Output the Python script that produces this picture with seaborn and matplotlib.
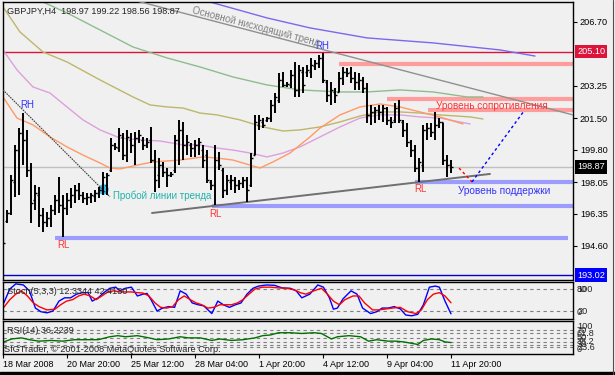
import matplotlib
matplotlib.use('Agg')
import matplotlib.pyplot as plt
import matplotlib.transforms as mtransforms
from matplotlib.patches import Rectangle
from matplotlib.lines import Line2D
import seaborn as sns

sns.set_style('white')
plt.rcParams['font.family'] = ['Liberation Sans', 'DejaVu Sans']

# GBPJPY H4 bars
opens = [194.11, 195.95, 196.38, 198.06, 199.78, 200.70, 200.33, 198.70, 197.08, 197.35,
         196.27, 195.90, 196.11, 196.54, 197.08, 196.81, 196.65, 197.08, 197.35, 197.62,
         197.35, 197.19, 197.25, 197.30, 197.46, 197.62, 197.89, 198.70, 200.06, 199.89,
         200.49, 199.51, 200.33, 200.06, 200.43, 200.33, 200.06, 200.33, 199.24, 198.43,
         198.97, 198.60, 198.43, 198.70, 200.33, 200.87, 200.06, 200.06, 199.89, 200.06,
         199.78, 199.51, 198.06, 197.89, 199.24, 198.70, 197.62, 198.06, 198.16, 197.89,
         198.00, 198.16, 197.89, 199.51, 201.14, 201.30, 201.41, 201.51, 202.22, 202.49,
         203.57, 203.30, 203.30, 203.84, 203.03, 204.00, 204.00, 204.00, 204.32, 204.49,
         204.76, 203.46, 202.76, 202.92, 202.92, 203.67, 204.00, 204.00, 203.67, 203.46,
         203.57, 203.13, 201.68, 201.84, 201.95, 201.84, 202.05, 201.41, 201.41, 202.05,
         201.30, 200.87, 200.22, 199.78, 198.81, 198.97, 200.87, 200.97, 200.76, 201.14,
         201.30, 199.24, 198.97]
highs = [194.92, 196.54, 198.43, 200.06, 200.97, 201.78, 200.87, 199.08, 197.89, 197.79,
         196.65, 196.44, 196.81, 197.35, 198.33, 197.35, 197.46, 197.73, 197.89, 198.00,
         197.52, 197.46, 197.46, 197.62, 197.79, 198.60, 198.54, 200.43, 200.16, 200.97,
         200.70, 200.87, 200.70, 200.76, 200.87, 200.49, 200.43, 201.03, 199.78, 199.35,
         199.14, 198.81, 198.60, 200.60, 201.41, 201.30, 200.60, 200.16, 200.33, 200.43,
         200.06, 199.78, 198.16, 200.06, 199.68, 198.81, 198.43, 198.43, 198.33, 198.16,
         198.33, 198.33, 199.62, 201.68, 201.68, 201.51, 201.57, 202.49, 202.86, 203.94,
         204.00, 203.46, 204.11, 204.54, 204.38, 204.27, 204.38, 204.76, 204.65, 204.92,
         205.03, 203.57, 203.46, 203.13, 204.00, 204.27, 204.21, 204.27, 204.00, 203.94,
         203.73, 203.40, 202.22, 202.11, 202.22, 202.22, 202.11, 201.57, 202.32, 202.49,
         201.41, 201.24, 200.33, 200.06, 199.35, 201.14, 201.24, 201.24, 201.84, 201.51,
         201.24, 199.51, 199.22]
lows = [193.95, 195.84, 196.27, 197.25, 197.35, 198.97, 198.33, 195.84, 196.54, 195.62,
        195.35, 195.62, 195.62, 196.27, 196.38, 195.08, 196.27, 196.65, 196.92, 197.08,
        196.92, 196.81, 196.92, 196.98, 197.19, 197.35, 197.35, 198.60, 199.78, 199.68,
        199.24, 199.14, 199.62, 198.97, 200.16, 199.78, 199.89, 199.08, 197.52, 197.73,
        198.33, 197.79, 198.33, 198.54, 198.97, 199.24, 199.51, 199.41, 199.41, 199.51,
        198.81, 198.00, 197.62, 196.81, 198.70, 197.19, 197.35, 197.62, 197.46, 197.62,
        197.73, 196.98, 197.79, 199.51, 200.87, 200.97, 201.30, 201.30, 201.78, 202.32,
        203.19, 203.19, 203.13, 202.65, 202.65, 202.86, 203.73, 203.67, 204.11, 204.21,
        203.40, 202.38, 202.22, 202.32, 202.92, 203.30, 203.73, 203.40, 203.03, 203.03,
        202.86, 201.24, 201.14, 201.24, 201.41, 201.30, 201.14, 200.97, 201.24, 201.24,
        200.49, 199.95, 199.41, 198.60, 198.06, 198.60, 200.33, 200.49, 200.33, 200.97,
        198.97, 198.33, 198.56]
closes = [194.76, 196.38, 198.16, 199.78, 200.70, 200.33, 198.70, 196.92, 197.46, 196.27,
          195.90, 196.11, 196.54, 197.08, 196.81, 196.65, 197.08, 197.35, 197.62, 197.35,
          197.19, 197.25, 197.35, 197.46, 197.62, 198.33, 198.43, 200.06, 199.95, 200.60,
          199.51, 200.49, 200.06, 200.43, 200.60, 200.06, 200.22, 199.24, 198.16, 198.97,
          198.60, 198.43, 198.49, 200.33, 200.87, 200.06, 200.22, 199.89, 200.06, 200.22,
          199.24, 198.16, 197.89, 199.24, 198.97, 197.62, 198.16, 198.16, 197.89, 198.00,
          198.16, 197.62, 199.35, 201.30, 201.41, 201.14, 201.51, 202.22, 202.65, 203.57,
          203.30, 203.35, 203.84, 203.03, 204.11, 203.30, 204.11, 204.38, 204.49, 204.76,
          203.57, 202.76, 203.03, 202.76, 203.67, 204.00, 203.94, 203.67, 203.46, 203.57,
          203.13, 201.68, 201.84, 201.95, 201.84, 202.05, 201.41, 201.30, 202.05, 201.41,
          200.87, 200.22, 199.78, 198.81, 199.14, 200.87, 200.97, 200.76, 201.14, 201.30,
          199.24, 198.97, 198.87]
bar_idx = list(range(len(opens)))

# time axis
tick_idx = [0, 16, 32, 48, 64, 80, 96, 112]
tick_labels = ['18 Mar 2008', '20 Mar 20:00', '25 Mar 12:00', '28 Mar 04:00',
               '1 Apr 20:00', '4 Apr 12:00', '9 Apr 04:00', '11 Apr 20:00']
price_ticks = [206.70, 203.25, 201.50, 199.80, 198.05, 196.35, 194.60]

# moving averages (bar index, price)
ma_fast_x = [0, 3.5, 7.5, 11.75, 16, 20, 24.25, 26.75, 29.25, 32.5, 37.5, 44.25, 50, 53.5,
             57.5, 61.75, 64.25, 67.5, 71.75, 76.75, 79.25, 84.25, 89.25, 94.25, 99.25,
             104.25, 109.25, 115]
ma_fast = [202.65, 201.51, 201.14, 200.49, 199.95, 199.51, 199.08, 198.81, 198.76, 198.92,
           199.14, 199.24, 199.41, 199.35, 199.24, 198.97, 198.81, 199.14, 199.62, 200.49,
           200.97, 201.68, 202.11, 202.27, 202.11, 201.84, 201.57, 201.19]
ma_plum_x = [0, 3.5, 7.5, 11.75, 16, 20, 24.25, 29.25, 34.25, 39.25, 45, 49.25, 53.5, 57.5,
             61.75, 66, 70, 74.25, 79.25, 84.25, 89.25, 94.25, 99.25, 104.25, 109.25, 116.75]
ma_plum = [205.19, 204.11, 203.19, 202.86, 202.11, 201.41, 200.87, 200.43, 200.33, 200.27,
           200.06, 200.06, 199.89, 199.78, 199.62, 199.41, 199.62, 199.95, 200.49, 201.03,
           201.51, 201.68, 201.68, 201.57, 201.51, 201.19]
ma_olive_x = [0, 4.25, 10, 16, 24.25, 32.5, 36.75, 41, 45, 49.25, 53.5, 59.25, 65, 70,
              74.25, 79.25, 84.25, 89.25, 94.25, 99.25, 104.25, 109.25, 116.75, 120]
ma_olive = [207.51, 206.16, 205.08, 204.54, 203.57, 202.65, 202.22, 202.11, 202.05, 201.78,
            201.68, 201.41, 201.03, 200.81, 200.87, 201.03, 201.30, 201.62, 201.84, 201.84,
            201.78, 201.68, 201.57, 201.46]
ma_green_x = [10, 16, 24.25, 32.5, 41, 49.25, 57.5, 66, 74.25, 84.25, 91, 99.25, 107.5, 116, 120]
ma_green = [207.78, 207.19, 206.27, 205.35, 204.76, 204.27, 203.73, 203.30, 203.03, 202.92,
            202.92, 203.03, 202.92, 202.65, 202.65]
ma_blue_x = [51.75, 66, 76.75, 91, 107.5, 124.25, 133]
ma_blue = [207.78, 206.92, 206.38, 205.84, 205.57, 205.19, 204.86]

# drawn objects
main_trend_x, main_trend_y = [32.5, 142.5], [207.89, 201.68]
break_trend_x, break_trend_y = [0, 26.75], [203.03, 197.25]
support_trend_x, support_trend_y = [37.25, 121.75], [196.38, 198.49]
break_point = (25, 197.68)
fc_down_x, fc_down_y = [114, 117.25], [198.81, 198.06]
fc_up_x, fc_up_y = [117.25, 130.25], [198.06, 201.89]
res_levels = [204.43, 202.54, 201.95]
res_start = [84, 96, 106.25]
sup_levels = [198.06, 196.76, 195.03]
sup_start = [103, 52.25, 13]
sup_end = [142.5, 142.5, 141.25]
level_high, level_bid, level_alert = 205.10, 198.87, 193.02
rh_pts = [(6, 202.22), (79.75, 205.40)]
rl_pts = [(15, 194.65), (53, 196.33), (104.25, 197.68)]

# Stochastic (5,3,3)
st_main_x = [0.2, 1.7, 3.2, 5.1, 6.6, 8.1, 9.5, 11.0, 12.5, 14.0, 15.4, 16.9, 18.4, 19.8, 21.3,
             22.3, 23.8, 25.2, 26.7, 28.2, 29.2, 30.6, 32.1, 33.6, 35.0, 36.0, 37.0, 38.5, 39.9,
             41.4, 42.9, 44.3, 45.8, 47.3, 48.8, 50.2, 52.2, 53.7, 55.1, 56.6, 58.1, 59.5, 61.0,
             62.5, 63.9, 65.9, 67.9, 69.8, 71.8, 73.3, 74.7, 76.7, 78.7, 80.1, 81.6, 82.6, 83.6,
             85.0, 87.0, 88.5, 89.9, 91.9, 93.4, 94.8, 96.3, 97.8, 99.3, 100.7, 102.2, 103.7,
             105.1, 106.6, 108.1, 109.1, 110.5, 112.0]
st_main = [42, 80, 94, 91, 75, 28, 18, 15, 20, 47, 56, 56, 66, 70, 70, 47, 56, 70, 82, 85,
           75, 82, 85, 61, 66, 68, 51, 20, 28, 32, 30, 75, 66, 42, 37, 34, 13, 47, 37, 30,
           37, 42, 66, 82, 88, 91, 90, 83, 82, 75, 56, 66, 91, 85, 56, 25, 28, 53, 75, 66,
           28, 13, 18, 28, 28, 32, 26, 9, 7, 11, 37, 85, 88, 85, 47, 12.3344]
st_sig_x = [0.2, 1.7, 3.2, 4.6, 6.1, 7.6, 9.0, 11.0, 13.0, 14.4, 15.9, 17.4, 18.9, 20.3, 21.8,
            23.3, 24.7, 26.2, 27.7, 29.2, 30.6, 32.1, 33.6, 35.0, 36.5, 38.0, 39.4, 40.9, 42.4,
            43.9, 45.3, 46.8, 48.3, 49.7, 51.2, 52.7, 54.2, 55.6, 57.1, 58.6, 60.0, 61.5, 63.0,
            64.9, 66.9, 68.9, 70.8, 72.8, 74.3, 75.7, 77.7, 79.6, 81.1, 82.6, 84.1, 85.5, 87.5,
            89.0, 90.4, 92.4, 93.9, 95.3, 97.3, 99.3, 101.2, 103.2, 104.6, 106.1, 107.6, 109.1,
            110.5, 112.0]
st_sig = [30, 51, 66, 75, 61, 42, 32, 23, 25, 37, 47, 51, 61, 66, 61, 51, 61, 72, 75, 72,
          72, 72, 70, 69, 61, 42, 30, 28, 32, 51, 61, 51, 42, 37, 28, 30, 37, 37, 37, 42,
          51, 66, 80, 85, 85, 83, 82, 78, 70, 66, 75, 82, 66, 47, 37, 51, 61, 61, 42, 23,
          23, 25, 28, 30, 18, 13, 23, 51, 66, 70, 61, 42.4130]

# RSI(14)
rsi_x = [0.2, 2.2, 4.6, 6.6, 9.0, 12.0, 14.9, 17.9, 20.8, 23.8, 26.7, 28.7, 30.6, 33.6, 36.5,
         38.5, 41.4, 44.3, 46.3, 49.3, 52.2, 54.2, 57.1, 60.0, 63.0, 64.9, 66.9, 68.9, 71.8,
         74.7, 77.7, 79.6, 82.1, 83.6, 86.5, 89.4, 91.4, 93.4, 96.3, 98.3, 100.2, 102.2, 103.7,
         105.1, 107.1, 109.1, 110.5, 112.0]
rsi = [38, 46, 49, 44, 40, 42, 40, 44, 44, 44, 52, 55, 52, 55, 49, 44, 46, 52, 49, 49,
       42, 46, 42, 44, 49, 55, 57, 63, 63, 61, 63, 61, 46, 52, 55, 52, 40, 44, 40, 40,
       38, 34, 31, 42, 46, 44, 38, 36.2239]
rsi_levels = [70, 61.8, 50, 38.2, 30, 23.6]

BG = '#F0F0F0'
W, H = 615, 375
FS = 6.6
X_END = 142.5


def rect(x0, y0, x1, y1):
    return [x0 / W, 1 - y1 / H, (x1 - x0) / W, (y1 - y0) / H]


fig = plt.figure(figsize=(W / 100, H / 100), dpi=100, facecolor=BG)
ax = fig.add_axes(rect(3, 2, 573, 280))
ax_st = fig.add_axes(rect(3, 282, 573, 319), sharex=ax)
ax_rsi = fig.add_axes(rect(3, 321, 573, 354), sharex=ax)

for a in (ax, ax_st, ax_rsi):
    a.set_facecolor(BG)
    for s in a.spines.values():
        s.set_color('black')
        s.set_linewidth(1)
    a.tick_params(axis='x', bottom=False, labelbottom=False)
    a.tick_params(axis='y', left=False, labelleft=False)

# ---- main price panel
ax.set_xlim(0, X_END)
ax.set_ylim(192.76, 207.78)

ax.axhline(level_high, color='#DC143C', lw=1, zorder=1)
ax.axhline(level_bid, color='#C0C0C0', lw=1, zorder=1)
ax.axhline(level_alert, color='#0000CD', lw=1, zorder=1)
for p, s in zip(res_levels, res_start):
    ax.hlines(p, s, X_END, color='#FF9C9C', lw=3, zorder=1)
for p, s, e in zip(sup_levels, sup_start, sup_end):
    ax.hlines(p, s, e, color='#9C9CFF', lw=3, zorder=1)

for xs, ys, c in [(ma_blue_x, ma_blue, '#7B68EE'), (ma_green_x, ma_green, '#8FBC8F'),
                  (ma_olive_x, ma_olive, '#BDB76B'), (ma_plum_x, ma_plum, '#DDA0DD'),
                  (ma_fast_x, ma_fast, '#FF9966')]:
    sns.lineplot(x=xs, y=ys, color=c, linewidth=1, ax=ax, estimator=None, sort=False, zorder=2)

ax.plot(main_trend_x, main_trend_y, color='#909090', lw=1, zorder=3)
ax.plot(support_trend_x, support_trend_y, color='#707070', lw=1.4, zorder=3)
ax.plot(*break_point, 'o', ms=7.5, color='#3CBDF0', mec='none', zorder=3)
ax.plot(break_trend_x, break_trend_y, color='#404040', lw=0.8, ls=(0, (1.5, 0.8)), zorder=3)
ax.plot(fc_down_x, fc_down_y, color='#FF0000', lw=1, ls=(0, (2, 2)), zorder=3)
ax.plot(fc_up_x, fc_up_y, color='#0000FF', lw=1, ls=(0, (2, 2)), zorder=3)

# bars
ax.vlines(bar_idx, lows, highs, colors='black', lw=1.4, zorder=4)
ax.hlines(opens, [i - 0.45 for i in bar_idx], bar_idx, colors='black', lw=1, zorder=4)
ax.hlines(closes, bar_idx, [i + 0.45 for i in bar_idx], colors='black', lw=1, zorder=4)

# labels on the chart
for x, y in rh_pts:
    ax.text(x, y, 'RH', color='#3333FF', fontsize=7, ha='center', va='center', zorder=5)
for x, y in rl_pts:
    ax.text(x, y, 'RL', color='#FF3333', fontsize=7, ha='center', va='center', zorder=5)
ax.text(47.25, 207.19, 'Основной нисходящий тренд', rotation=-14.6, rotation_mode='anchor',
        ha='left', va='baseline', color='#808080', fontsize=7, zorder=5)
ax.text(27.5, 197.30, 'Пробой линии тренда', color='#20B2AA', fontsize=7,
        ha='left', va='center', zorder=5)
ax.text(108.25, 202.16, 'Уровень сопротивления', color='#FF3333', fontsize=7.2,
        ha='left', va='center', zorder=5)
ax.text(113.75, 197.57, 'Уровень поддержки', color='#3333FF', fontsize=7.3,
        ha='left', va='center', zorder=5)

# price scale
ax.yaxis.tick_right()
ax.set_yticks(price_ticks)
ax.set_yticklabels([f'{v:.2f}' for v in price_ticks])
ax.tick_params(axis='y', right=True, labelright=True, length=3, width=0.8, pad=2,
               labelsize=FS, colors='black')
trans = mtransforms.blended_transform_factory(ax.transAxes, ax.transData)
for p, c in [(level_high, '#DC143C'), (level_bid, '#000000'), (level_alert, '#0000FF')]:
    ax.text(1.007, p, f'{p:.2f}', transform=trans, fontsize=FS, color='white', ha='left',
            va='center', clip_on=False,
            bbox=dict(boxstyle='square,pad=0.25', fc=c, ec='none'))
ax.set_xlabel('')
ax.set_ylabel('')

# ---- stochastic panel
ax_st.set_ylim(-1.8, 99.1)
for lv in (80, 20):
    ax_st.axhline(lv, color='#808080', lw=0.8, ls=(0, (3, 3)))
sns.lineplot(x=st_main_x, y=st_main, color='#0000FF', linewidth=1, ax=ax_st, estimator=None)
sns.lineplot(x=st_sig_x, y=st_sig, color='#FF0000', linewidth=1, ax=ax_st, estimator=None)
ax_st.text(0.007, 0.73, f'Stoch(5,3,3) {st_main[-1]:.4f} {st_sig[-1]:.4f}',
           transform=ax_st.transAxes, fontsize=FS, ha='left', va='center')
tr_st = mtransforms.blended_transform_factory(ax_st.transAxes, ax_st.transData)
for lbl, v in [('100', 80), ('80', 80), ('20', 20), ('0', 15)]:
    ax_st.text(1.007, v, lbl, transform=tr_st, fontsize=FS, ha='left', va='center', clip_on=False)
ax_st.set_xlabel('')
ax_st.set_ylabel('')

# ---- RSI panel
ax_rsi.set_ylim(5, 95)
for lv in rsi_levels:
    ax_rsi.axhline(lv, color='#808080', lw=0.8, ls=(0, (3, 3)))
sns.lineplot(x=rsi_x, y=rsi, color='#007000', linewidth=1, ax=ax_rsi, estimator=None)
ax_rsi.text(0.007, 0.7, f'RSI(14) {rsi[-1]:.4f}', transform=ax_rsi.transAxes, fontsize=FS,
            ha='left', va='center')
ax_rsi.text(0.002, 0.15, 'SIGTrader, © 2001-2008 MetaQuotes Software Corp.',
            transform=ax_rsi.transAxes, fontsize=FS, ha='left', va='center')
tr_rsi = mtransforms.blended_transform_factory(ax_rsi.transAxes, ax_rsi.transData)
for lbl, v in [('100', 79), ('70', 70), ('61.8', 61.8), ('50', 50), ('38.2', 38.2),
               ('30', 30), ('23.6', 23.6), ('0', 16)]:
    ax_rsi.text(1.007, v, lbl, transform=tr_rsi, fontsize=FS, ha='left', va='center',
                clip_on=False)

ax_rsi.set_xticks(tick_idx)
ax_rsi.set_xticklabels(tick_labels)
ax_rsi.tick_params(axis='x', bottom=True, labelbottom=True, length=3, width=0.8, pad=1.5,
                   labelsize=6.5, colors='black')
for t in ax_rsi.get_xticklabels():
    t.set_ha('left')
ax_rsi.set_xlabel('')
ax_rsi.set_ylabel('')

# header and window frame
fig.text(7 / W, 1 - 11 / H,
         f'GBPJPY,H4  {opens[-1]:.2f} {highs[-1]:.2f} {lows[-1]:.2f} {closes[-1]:.2f}',
         fontsize=FS, ha='left', va='center')
fig.add_artist(Rectangle((0, 0), 1, 3 / H, transform=fig.transFigure, color='black'))
fig.add_artist(Line2D([613 / W, 613 / W], [0, 1], transform=fig.transFigure,
                      color='#505050', lw=0.8))

fig.savefig('out.png', dpi=100, facecolor=BG)
